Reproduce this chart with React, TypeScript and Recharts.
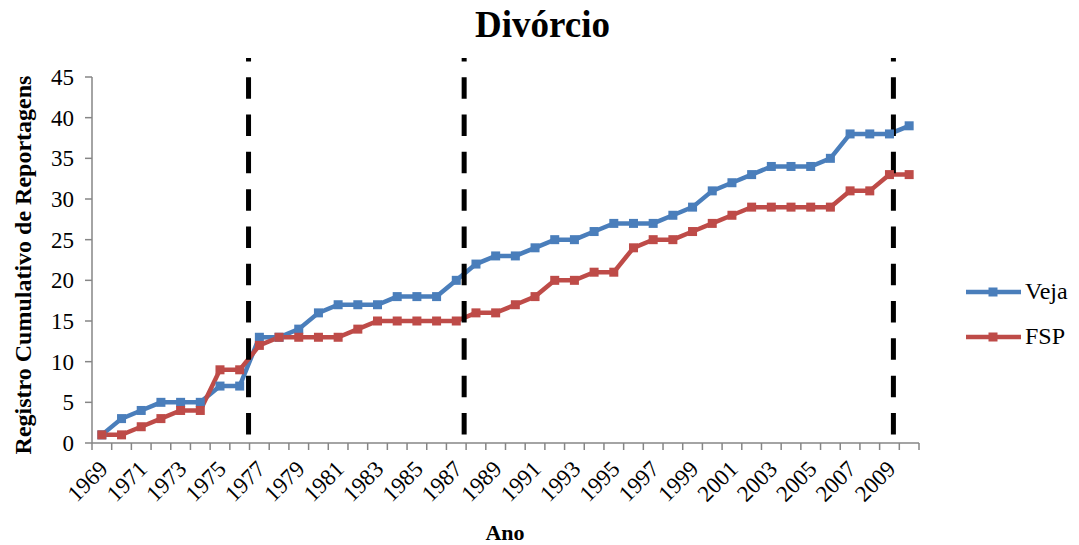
import { LineChart, Line, XAxis, YAxis, ReferenceLine, Legend } from 'recharts'

const years = [
  '1969', '1970', '1971', '1972', '1973', '1974', '1975', '1976', '1977', '1978',
  '1979', '1980', '1981', '1982', '1983', '1984', '1985', '1986', '1987', '1988',
  '1989', '1990', '1991', '1992', '1993', '1994', '1995', '1996', '1997', '1998',
  '1999', '2000', '2001', '2002', '2003', '2004', '2005', '2006', '2007', '2008',
  '2009', '2010',
]
const veja = [
  1, 3, 4, 5, 5, 5, 7, 7, 13, 13,
  14, 16, 17, 17, 17, 18, 18, 18, 20, 22,
  23, 23, 24, 25, 25, 26, 27, 27, 27, 28,
  29, 31, 32, 33, 34, 34, 34, 35, 38, 38,
  38, 39,
]
const fsp = [
  1, 1, 2, 3, 4, 4, 9, 9, 12, 13,
  13, 13, 13, 14, 15, 15, 15, 15, 15, 16,
  16, 17, 18, 20, 20, 21, 21, 24, 25, 25,
  26, 27, 28, 29, 29, 29, 29, 29, 31, 31,
  33, 33,
]
const seriesNames = ['Veja', 'FSP']
const yTicks = [0, 5, 10, 15, 20, 25, 30, 35, 40, 45]
// dashed period markers, in category units counted from the left edge
const periodBreaks = [7.95, 18.9, 40.7]

// pos = centre of each category in category units, used by the hidden numeric axis
const data = years.map((year, i) => ({ year, pos: i + 0.5, veja: veja[i], fsp: fsp[i] }))

const BLUE = '#4A7EBB'
const RED = '#BE4B48'
const AXIS = '#868686'
const FONT = '"Liberation Serif", "Times New Roman", serif'

const CHART_W = 1079
const MARGIN = { top: 77, right: 160, left: 42, bottom: 31 }
const Y_AXIS_W = 50
const HALF_BAND = (CHART_W - MARGIN.left - MARGIN.right - Y_AXIS_W) / years.length / 2

// category axis tick: Excel-style marks between categories, label on every other year
function YearTick({ x, y, index, payload }: any) {
  const last = index === years.length - 1
  const tx = x - 4
  const ty = y + 16
  return (
    <g>
      <line x1={x - HALF_BAND} y1={y} x2={x - HALF_BAND} y2={y + 7} stroke={AXIS} strokeWidth={1.5} />
      {last && <line x1={x + HALF_BAND} y1={y} x2={x + HALF_BAND} y2={y + 7} stroke={AXIS} strokeWidth={1.5} />}
      {index % 2 === 0 && (
        <text
          x={tx}
          y={ty}
          transform={`rotate(-45, ${tx}, ${ty})`}
          textAnchor="end"
          dy="0.7em"
          fontSize={23}
          fontFamily={FONT}
          fill="#000"
        >
          {payload.value}
        </text>
      )}
    </g>
  )
}

const squareDot = (color: string) => (p: any) => (
  <rect key={p.index} x={p.cx - 4.5} y={p.cy - 4.5} width={9} height={9} fill={color} />
)

function LegendBox({ payload }: any) {
  const items = [...(payload || [])].sort(
    (a: any, b: any) => seriesNames.indexOf(a.value) - seriesNames.indexOf(b.value),
  )
  return (
    <div>
      {items.map((entry: any) => (
        <div key={entry.value} style={{ display: 'flex', alignItems: 'center', height: 45 }}>
          <svg width={59} height={10}>
            <line x1={0} y1={5} x2={55} y2={5} stroke={entry.color} strokeWidth={4.5} />
            <rect x={22.5} y={0.5} width={9} height={9} fill={entry.color} />
          </svg>
          <span style={{ fontFamily: FONT, fontSize: 24, color: '#000' }}>{entry.value}</span>
        </div>
      ))}
    </div>
  )
}

export default function App() {
  return (
    <div style={{ position: 'absolute', left: 0, top: 0, width: 1079, height: 545, background: '#fff' }}>
      <div
        style={{
          position: 'absolute', left: 0, top: 3, width: 1085, textAlign: 'center',
          fontFamily: FONT, fontWeight: 'bold', fontSize: 37, color: '#000',
        }}
      >
        Divórcio
      </div>
      <div
        style={{
          position: 'absolute', left: 23, top: 265, transform: 'translate(-50%, -50%) rotate(-90deg)',
          whiteSpace: 'nowrap', fontFamily: FONT, fontWeight: 'bold', fontSize: 24, color: '#000',
        }}
      >
        Registro Cumulativo de Reportagens
      </div>
      <div
        style={{
          position: 'absolute', left: 505, top: 533, transform: 'translate(-50%, -50%)',
          fontFamily: FONT, fontWeight: 'bold', fontSize: 22, color: '#000',
        }}
      >
        Ano
      </div>
      <LineChart width={CHART_W} height={545} data={data} margin={MARGIN}>
        <XAxis
          xAxisId="idx"
          dataKey="pos"
          type="number"
          domain={[0, years.length]}
          allowDataOverflow
          hide
        />
        <XAxis
          xAxisId="cat"
          dataKey="year"
          scale="band"
          interval={0}
          tickLine={false}
          tickSize={0}
          tickMargin={0}
          axisLine={{ stroke: AXIS, strokeWidth: 1.5 }}
          height={71}
          tick={<YearTick />}
        />
        <YAxis
          domain={[0, 45]}
          ticks={yTicks}
          width={Y_AXIS_W}
          tickSize={7}
          tickMargin={11}
          axisLine={{ stroke: AXIS, strokeWidth: 1.5 }}
          tickLine={{ stroke: AXIS, strokeWidth: 1.5 }}
          tick={{ fontSize: 23, fontFamily: FONT, fill: '#000' }}
        />
        <Line
          xAxisId="cat"
          dataKey="veja"
          name="Veja"
          stroke={BLUE}
          strokeWidth={4.5}
          dot={squareDot(BLUE)}
          activeDot={false}
          isAnimationActive={false}
        />
        <Line
          xAxisId="cat"
          dataKey="fsp"
          name="FSP"
          stroke={RED}
          strokeWidth={4.5}
          dot={squareDot(RED)}
          activeDot={false}
          isAnimationActive={false}
        />
        {periodBreaks.map((b) => (
          <ReferenceLine
            key={b}
            xAxisId="idx"
            segment={[{ x: b, y: 1.05 }, { x: b, y: 47.35 }]}
            ifOverflow="visible"
            stroke="#000"
            strokeWidth={5}
            strokeDasharray="21.5 15.8"
          />
        ))}
        <Legend
          layout="horizontal"
          verticalAlign="middle"
          align="center"
          content={<LegendBox />}
          wrapperStyle={{ left: 966, top: 269, width: 113, height: 90 }}
        />
      </LineChart>
    </div>
  )
}
